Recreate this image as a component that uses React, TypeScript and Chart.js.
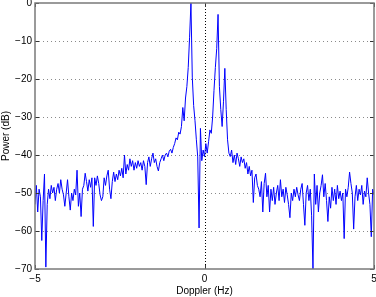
import { useEffect, useRef } from 'react';
import { Chart, registerables } from 'chart.js';

Chart.register(...registerables);

// Doppler spectrum: frequency grid (Hz) and measured power (dB)
const freqStartHz = -5;
const freqStepHz = 0.04;
const powerDb: number[] = [
  -53, -48, -55, -49, -51, -62.5, -52, -45, -69.5, -53,
  -49, -51.5, -48, -50, -48.5, -52, -49, -47.5, -50, -46.5,
  -49, -50.5, -53.5, -50, -46.5, -51, -54.5, -50, -52, -49,
  -50.5, -44, -53.5, -50, -56.2, -49, -48, -44.8, -47, -49.5,
  -46.5, -48.5, -46, -58.8, -46, -48, -45.5, -47.5, -50.5, -52,
  -51, -46, -48, -45.5, -44, -49, -51.5, -47, -44.5, -47,
  -45, -46.5, -44, -45.5, -43.5, -46, -40, -45, -42.5, -44,
  -41, -43, -41.5, -44, -42, -43.5, -41.5, -43, -42, -44,
  -41.5, -43, -47.8, -42, -40.5, -43, -41, -39.5, -42, -41,
  -43, -44.2, -42, -41, -40, -41.5, -40, -39.5, -40.5, -39,
  -38.5, -39.5, -38, -37, -35.5, -36, -34, -34.5, -32.5, -27.5,
  -31, -25, -22, -17, -9, 0, -19.5, -27, -31, -36,
  -40.5, -59.2, -33, -41.5, -38.7, -40.4, -37, -39.5, -36.5, -33.4,
  -34.3, -30, -23, -17, -12, -3, -22, -28, -32.5, -26,
  -17.2, -28, -36, -39.5, -40.4, -38.7, -42, -40, -42.5, -39.5,
  -41, -43, -40.5, -42, -41, -43.5, -42, -45, -43, -45.5,
  -44, -52.5, -46, -45, -48, -49, -51, -47, -55, -47.5,
  -44.8, -51, -48, -55, -49, -52, -48.5, -53, -50, -48,
  -52, -46.5, -51, -49, -52.5, -48.5, -50.5, -53, -56.5, -50,
  -52, -49, -51, -48.5, -50.5, -52, -49, -47.5, -53, -58.5,
  -50, -48, -52, -49, -56, -70, -45, -53, -48, -55,
  -50, -48, -45.2, -51, -47.5, -52, -57.5, -51, -54, -48.5,
  -52, -49, -53, -48, -51.5, -49.5, -52, -50, -62, -49,
  -51, -48.5, -44.5, -47.5, -50, -59.5, -51, -48, -52, -49,
  -50.5, -48, -53, -49.5, -51, -46, -50, -53, -61.5, -49,
  -50.5,
];

const xRange = [-5, 5];
const yRange = [-70, 0];
const xTickStep = 5;
const yTickStep = 10;
const yGridValues = [-60, -50, -40, -30, -20, -10];
const xGridValues = [0];

const FONT = '"Liberation Sans", Arial, Helvetica, sans-serif';

const fmt = (v: number) => (v < 0 ? '\u2212' + Math.abs(v) : String(v));

const matlabAxes = {
  id: 'matlabAxes',
  beforeDatasetsDraw(chart: any) {
    const { ctx, chartArea: a, scales } = chart;
    const x = scales.x;
    const y = scales.y;
    ctx.save();
    ctx.lineWidth = 1;
    ctx.strokeStyle = '#8a8a8a';
    ctx.setLineDash([1, 3]);
    yGridValues.forEach((v) => {
      const py = Math.round(y.getPixelForValue(v)) + 0.5;
      ctx.beginPath();
      ctx.moveTo(a.left, py);
      ctx.lineTo(a.right, py);
      ctx.stroke();
    });
    ctx.strokeStyle = '#000';
    ctx.setLineDash([1, 2]);
    xGridValues.forEach((v) => {
      const px = Math.round(x.getPixelForValue(v)) + 0.5;
      ctx.beginPath();
      ctx.moveTo(px, a.top);
      ctx.lineTo(px, a.bottom);
      ctx.stroke();
    });
    ctx.restore();
  },
  afterDatasetsDraw(chart: any) {
    const { ctx, chartArea: a, scales } = chart;
    const x = scales.x;
    const y = scales.y;
    ctx.save();
    ctx.setLineDash([]);
    ctx.strokeStyle = '#333';
    ctx.lineWidth = 1;
    const tl = 4;
    y.ticks.forEach((t: any) => {
      const py = Math.round(y.getPixelForValue(t.value)) + 0.5;
      ctx.beginPath();
      ctx.moveTo(a.left, py);
      ctx.lineTo(a.left + tl, py);
      ctx.moveTo(a.right, py);
      ctx.lineTo(a.right - tl, py);
      ctx.stroke();
    });
    x.ticks.forEach((t: any) => {
      const px = Math.round(x.getPixelForValue(t.value)) + 0.5;
      ctx.beginPath();
      ctx.moveTo(px, a.bottom);
      ctx.lineTo(px, a.bottom - tl);
      ctx.moveTo(px, a.top);
      ctx.lineTo(px, a.top + tl);
      ctx.stroke();
    });
    ctx.strokeStyle = '#7a7a7a';
    ctx.lineWidth = 1.5;
    ctx.strokeRect(a.left, a.top, a.right - a.left, a.bottom - a.top);
    ctx.restore();
  },
};

export default function App() {
  const ref = useRef<HTMLCanvasElement | null>(null);

  useEffect(() => {
    if (!ref.current) return;
    const points = powerDb.map((v, i) => ({ x: freqStartHz + i * freqStepHz, y: v }));
    const chart = new Chart(ref.current, {
      type: 'line',
      data: {
        datasets: [
          {
            data: points,
            borderColor: '#0000ff',
            borderWidth: 1,
            pointRadius: 0,
            tension: 0,
            fill: false,
          },
        ],
      },
      options: {
        animation: false,
        responsive: false,
        devicePixelRatio: 1,
        layout: { padding: { top: 3, right: 2, left: 0, bottom: 0 } },
        plugins: { legend: { display: false }, tooltip: { enabled: false } },
        scales: {
          x: {
            type: 'linear',
            min: xRange[0],
            max: xRange[1],
            grid: { display: false, drawTicks: false, tickLength: 0 },
            border: { display: false },
            ticks: {
              stepSize: xTickStep,
              color: '#000',
              font: { family: FONT, size: 10 },
              padding: 4,
              maxRotation: 0,
              callback: (v: any) => fmt(Number(v)),
            },
            title: {
              display: true,
              text: 'Doppler (Hz)',
              color: '#000',
              font: { family: FONT, size: 10 },
              padding: { top: 0, bottom: 0 },
            },
            afterFit: (s: any) => {
              s.height = 28;
              s.paddingLeft = 0;
              s.paddingRight = 0;
            },
          },
          y: {
            type: 'linear',
            min: yRange[0],
            max: yRange[1],
            grid: { display: false, drawTicks: false, tickLength: 0 },
            border: { display: false },
            ticks: {
              stepSize: yTickStep,
              color: '#000',
              font: { family: FONT, size: 10 },
              padding: 3,
              callback: (v: any) => fmt(Number(v)),
            },
            title: {
              display: true,
              text: 'Power (dB)',
              color: '#000',
              font: { family: FONT, size: 10 },
              padding: { top: 0, bottom: 0 },
            },
            afterFit: (s: any) => {
              s.width = 35;
              s.paddingTop = 0;
              s.paddingBottom = 0;
            },
          },
        },
      },
      plugins: [matlabAxes],
    });
    return () => chart.destroy();
  }, []);

  return (
    <div style={{ position: 'fixed', left: 0, top: 0, width: 376, height: 297, background: '#fff' }}>
      <canvas ref={ref} width={376} height={297} style={{ display: 'block' }} />
    </div>
  );
}
